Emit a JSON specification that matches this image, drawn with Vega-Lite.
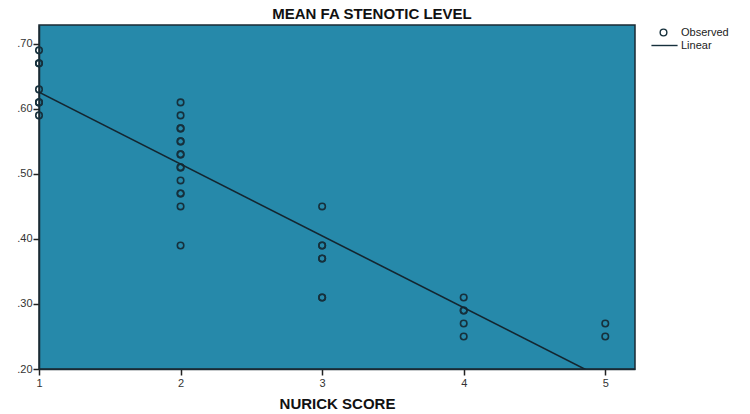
{
  "$schema": "https://vega.github.io/schema/vega-lite/v6.json",
  "autosize": {"type": "none"},
  "width": 596,
  "height": 344,
  "padding": {"left": 39, "top": 25, "right": 115, "bottom": 45},
  "background": "white",
  "title": {"text": "MEAN FA STENOTIC LEVEL", "font": "Liberation Sans", "fontSize": 15, "fontWeight": "bold", "color": "#111111", "offset": 3, "dx": 35},
  "config": {
    "view": {"fill": "#2689aa", "stroke": "#1a2a33", "strokeWidth": 1.5},
    "axis": {"grid": false, "labelFont": "Liberation Sans", "labelColor": "#333333", "labelFontSize": 11, "labelFlush": false, "tickColor": "#222222", "tickWidth": 1.5, "domainColor": "#1a2a33", "domainWidth": 1.5, "tickSize": 6, "titleFont": "Liberation Sans", "titleFontWeight": "bold", "titleColor": "#111111"}
  },
  "data": {"values": [
    {"score": 1, "fa": 0.69}, {"score": 1, "fa": 0.67}, {"score": 1, "fa": 0.67}, {"score": 1, "fa": 0.63}, {"score": 1, "fa": 0.61}, {"score": 1, "fa": 0.61}, {"score": 1, "fa": 0.59},
    {"score": 2, "fa": 0.61}, {"score": 2, "fa": 0.59}, {"score": 2, "fa": 0.57}, {"score": 2, "fa": 0.57}, {"score": 2, "fa": 0.55}, {"score": 2, "fa": 0.55}, {"score": 2, "fa": 0.53}, {"score": 2, "fa": 0.53}, {"score": 2, "fa": 0.51}, {"score": 2, "fa": 0.51}, {"score": 2, "fa": 0.49}, {"score": 2, "fa": 0.47}, {"score": 2, "fa": 0.47}, {"score": 2, "fa": 0.45}, {"score": 2, "fa": 0.39},
    {"score": 3, "fa": 0.45}, {"score": 3, "fa": 0.39}, {"score": 3, "fa": 0.39}, {"score": 3, "fa": 0.37}, {"score": 3, "fa": 0.37}, {"score": 3, "fa": 0.31}, {"score": 3, "fa": 0.31},
    {"score": 4, "fa": 0.31}, {"score": 4, "fa": 0.29}, {"score": 4, "fa": 0.29}, {"score": 4, "fa": 0.27}, {"score": 4, "fa": 0.25},
    {"score": 5, "fa": 0.27}, {"score": 5, "fa": 0.25}
  ]},
  "layer": [
    {
      "mark": {"type": "point", "filled": false, "strokeWidth": 1.6, "size": 42, "color": "#16303c", "opacity": 1},
      "encoding": {
        "x": {"field": "score", "type": "quantitative", "scale": {"domain": [1, 5.21], "nice": false, "zero": false},
              "axis": {"values": [1, 2, 3, 4, 5], "format": "d", "title": "NURICK SCORE", "titleFontSize": 15, "titlePadding": 8, "labelPadding": 2}},
        "y": {"field": "fa", "type": "quantitative", "scale": {"domain": [0.2, 0.729], "nice": false, "zero": false},
              "axis": {"values": [0.2, 0.3, 0.4, 0.5, 0.6, 0.7], "labelExpr": "substring(format(datum.value, '.2f'), 1)", "title": null, "labelPadding": 1}},
        "shape": {"datum": "Observed", "type": "nominal",
                  "scale": {"domain": ["Observed", "Linear"], "range": ["circle", "M-3.6,0H4.2"]},
                  "legend": {"title": null, "orient": "none", "legendX": 619, "legendY": 2, "labelFont": "Liberation Sans", "labelFontSize": 11, "labelColor": "#222222", "symbolStrokeColor": "#16303c", "symbolFillColor": "transparent", "symbolStrokeWidth": 1.4, "symbolSize": 45, "rowPadding": 0, "labelOffset": 12}}
      }
    },
    {
      "transform": [{"regression": "fa", "on": "score", "extent": [1, 5.21]}],
      "mark": {"type": "line", "color": "#142630", "strokeWidth": 1.6, "clip": true},
      "encoding": {
        "x": {"field": "score", "type": "quantitative"},
        "y": {"field": "fa", "type": "quantitative"}
      }
    }
  ]
}
